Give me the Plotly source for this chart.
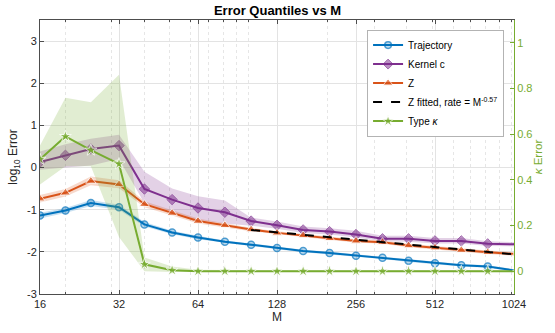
import plotly.graph_objects as go

# ── Data ─────────────────────────────────────────────────────────────────────
M = [16, 20, 25, 32, 40, 51, 64, 81, 102, 128, 161, 203, 256, 323, 406, 512, 645, 813, 1024]

traj     = [-1.14, -1.02, -0.84, -0.94, -1.35, -1.54, -1.66, -1.76, -1.83, -1.91,
            -1.98, -2.03, -2.09, -2.14, -2.21, -2.27, -2.32, -2.35, -2.44]
traj_lo  = [-1.21, -1.08, -0.91, -1.00, -1.40, -1.58, -1.70, -1.79, -1.86, -1.94,
            -2.01, -2.06, -2.12, -2.17, -2.24, -2.30, -2.35, -2.38, -2.47]
traj_hi  = [-1.07, -0.96, -0.77, -0.88, -1.29, -1.50, -1.62, -1.73, -1.80, -1.88,
            -1.95, -2.00, -2.06, -2.11, -2.18, -2.24, -2.29, -2.32, -2.41]

kern     = [0.13, 0.29, 0.44, 0.52, -0.51, -0.76, -0.96, -1.06, -1.27, -1.37,
            -1.48, -1.52, -1.59, -1.69, -1.69, -1.74, -1.74, -1.81, -1.82]
kern_lo  = [-0.05, 0.00, 0.05, 0.20, -0.85, -1.05, -1.25, -1.33, -1.38, -1.45,
            -1.55, -1.59, -1.66, -1.75, -1.76, -1.80, -1.80, -1.86, -1.87]
kern_hi  = [0.38, 0.55, 0.68, 0.78, -0.10, -0.50, -0.68, -0.78, -1.19, -1.28,
            -1.40, -1.44, -1.50, -1.62, -1.62, -1.67, -1.67, -1.75, -1.77]

zval     = [-0.74, -0.60, -0.32, -0.40, -0.87, -1.08, -1.27, -1.37, -1.47, -1.55,
            -1.61, -1.68, -1.74, -1.77, -1.85, -1.90, -1.96, -2.01, -2.05]
z_lo     = [-0.83, -0.69, -0.42, -0.49, -0.94, -1.14, -1.33, -1.42, -1.51, -1.59,
            -1.65, -1.72, -1.78, -1.81, -1.89, -1.94, -2.00, -2.05, -2.09]
z_hi     = [-0.65, -0.51, -0.21, -0.30, -0.80, -1.02, -1.21, -1.32, -1.43, -1.51,
            -1.57, -1.64, -1.70, -1.73, -1.81, -1.86, -1.92, -1.97, -2.01]

fit_M    = [102, 1024]
fit_z    = [-1.48, -2.06]

kappa    = [0.49, 0.59, 0.53, 0.47, 0.03, 0.004, 0.0, 0.0, 0.0, 0.0,
            0.0, 0.0, 0.0, 0.0, 0.0, 0.0, 0.0, 0.0, 0.0]
kappa_lo = [0.38, 0.46, 0.46, 0.15, 0.0, -0.004, -0.002, -0.002, -0.002, -0.002,
            -0.002, -0.002, -0.002, -0.002, -0.002, -0.002, -0.002, -0.002, -0.002]
kappa_hi = [0.55, 0.76, 0.74, 0.86, 0.06, 0.02, 0.006, 0.004, 0.004, 0.004,
            0.004, 0.004, 0.004, 0.004, 0.004, 0.004, 0.004, 0.004, 0.004]

major_ticks = [16, 32, 64, 128, 256, 512, 1024]
minor_ticks = [20, 30, 40, 50, 60, 70, 80, 90, 100, 200, 300, 400, 500, 600, 700, 800, 900, 1000]
y_ticks     = [-3, -2, -1, 0, 1, 2, 3]
y2_ticks    = [0, 0.2, 0.4, 0.6, 0.8, 1.0]

BLUE, PURPLE, ORANGE, GREEN = "#0072BD", "#7E2F8E", "#D95319", "#77AC30"
FONT = "Liberation Sans, Arial, sans-serif"


def _rgba(hex_col, a):
    h = hex_col.lstrip("#")
    return f"rgba({int(h[0:2], 16)},{int(h[2:4], 16)},{int(h[4:6], 16)},{a})"


def _band(lo, hi, col, a=0.22, yaxis="y"):
    return go.Scatter(x=M + M[::-1], y=hi + lo[::-1], fill="toself",
                      fillcolor=_rgba(col, a), line=dict(width=0),
                      mode="lines", showlegend=False, hoverinfo="skip", yaxis=yaxis)


# hide the marker on the last point (it sits on the right border)
msize = [7] * (len(M) - 1) + [0]

fig = go.Figure()

# shaded quantile bands
fig.add_trace(_band(traj_lo, traj_hi, BLUE))
fig.add_trace(_band(kern_lo, kern_hi, PURPLE))
fig.add_trace(_band(z_lo, z_hi, ORANGE))

fig.add_trace(go.Scatter(
    x=M, y=traj, mode="lines+markers", name="Trajectory",
    line=dict(color=BLUE, width=2),
    marker=dict(symbol="circle", size=msize, color=_rgba(BLUE, 0.35),
                line=dict(color=BLUE, width=1.5)),
))
fig.add_trace(go.Scatter(
    x=M, y=kern, mode="lines+markers", name="Kernel c",
    line=dict(color=PURPLE, width=2),
    marker=dict(symbol="diamond", size=[s + 1 for s in msize], color=_rgba(PURPLE, 0.75),
                line=dict(color=PURPLE, width=1)),
))
fig.add_trace(go.Scatter(
    x=M, y=zval, mode="lines+markers", name="Z",
    line=dict(color=ORANGE, width=2),
    marker=dict(symbol="triangle-up", size=[s + 2 for s in msize], color=ORANGE),
))
fig.add_trace(go.Scatter(
    x=fit_M, y=fit_z, mode="lines", name="Z fitted, rate = M<sup>-0.57</sup>",
    line=dict(color="black", width=2, dash="dash"),
))

# kappa on the right axis
fig.add_trace(_band(kappa_lo, kappa_hi, GREEN, a=0.22, yaxis="y2"))
fig.add_trace(go.Scatter(
    x=M, y=kappa, mode="lines+markers", name="Type <i>κ</i>", yaxis="y2",
    line=dict(color=GREEN, width=2),
    marker=dict(symbol="star", size=[s + 2 for s in msize], color=GREEN),
))

_ax = dict(showline=True, linecolor="#4d4d4d", linewidth=1, ticks="inside", ticklen=4,
           tickcolor="#4d4d4d", zeroline=False, tickfont=dict(size=11, color="#262626"))

fig.update_layout(
    width=555, height=333,
    paper_bgcolor="white", plot_bgcolor="white",
    font=dict(family=FONT, size=11, color="#262626"),
    margin=dict(l=40, r=40, t=20, b=36),
    title=dict(text="<b>Error Quantiles vs M</b>", x=0.5, xanchor="center",
               y=1 - 10 / 333, yanchor="middle", font=dict(size=13, color="#000")),
    xaxis=dict(**_ax, type="log", range=[1.20412, 3.01030],
               tickvals=major_ticks, ticktext=[str(t) for t in major_ticks],
               showgrid=True, gridcolor="#e3e3e3", gridwidth=1, mirror="ticks",
               title=dict(text="M", standoff=2, font=dict(size=12)),
               minor=dict(tickvals=minor_ticks, showgrid=True, gridcolor="#e6e6e6",
                          griddash="dot", ticks="inside", ticklen=2, tickcolor="#4d4d4d")),
    yaxis=dict(**_ax, range=[-3, 3.5], tickvals=y_ticks, ticktext=[str(t) for t in y_ticks],
               showgrid=True, gridcolor="#e3e3e3", gridwidth=1,
               title=dict(text="log<sub>10</sub> Error", standoff=6, font=dict(size=12))),
    yaxis2=dict(showline=True, linecolor=GREEN, linewidth=1, ticks="inside", ticklen=4,
                tickcolor=GREEN, zeroline=False, overlaying="y", side="right",
                range=[-0.1, 1.1], tickvals=y2_ticks,
                ticktext=["0", "0.2", "0.4", "0.6", "0.8", "1"], showgrid=False,
                tickfont=dict(size=11, color=GREEN),
                title=dict(text="<i>κ</i> Error", standoff=2,
                           font=dict(size=11.5, color=GREEN))),
    legend=dict(x=0.69, y=0.965, xanchor="left", yanchor="top",
                bgcolor="white", bordercolor="#b3b3b3", borderwidth=1,
                font=dict(size=10, color="#000"), tracegroupgap=0, itemwidth=30),
    showlegend=True,
)

# drop the default page margin so the 555x333 figure sits at the window origin
fig.write_html("out.html", config={"displayModeBar": False},
               post_script="document.body.style.margin='0';")
